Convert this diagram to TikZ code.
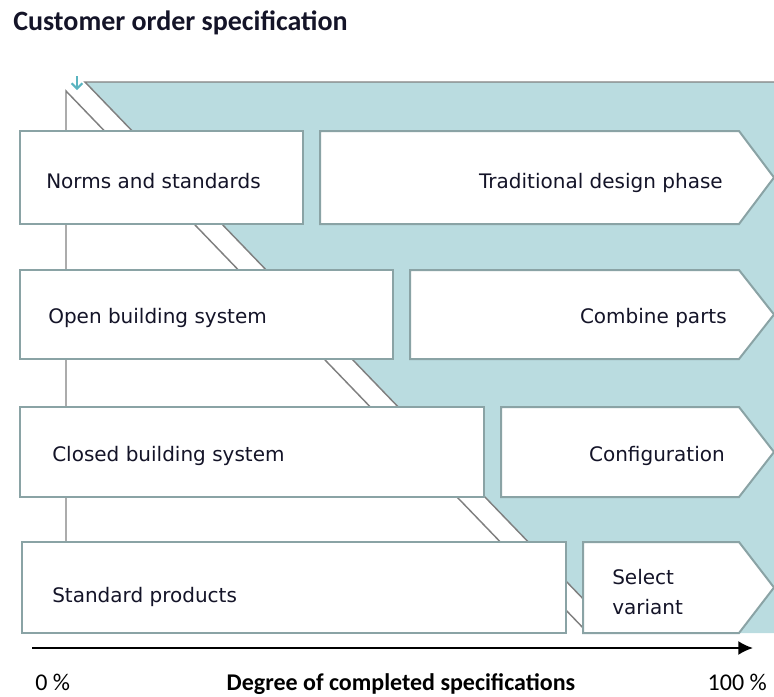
\documentclass[tikz,border=0pt]{standalone}
\usepackage{fontspec}
\setmainfont{Carlito}
\newfontfamily\boxfont{DejaVu Sans}
\usetikzlibrary{arrows.meta}
\definecolor{tealbg}{RGB}{186,220,224}
\definecolor{tealline}{RGB}{138,163,165}
\definecolor{tealarrow}{RGB}{90,180,192}
\definecolor{textdark}{RGB}{20,20,40}
\tikzset{
  box/.style={draw=tealline, line width=1.5pt, fill=white, line join=miter},
  boxtext/.style={font=\boxfont\fontsize{15}{22.5}\selectfont, inner sep=0pt, text=textdark},
  axistext/.style={font=\fontsize{18}{22}\selectfont, inner sep=0pt, text=black},
  guide/.style={draw=gray, line width=1.1pt}
}

\begin{document}
\begin{tikzpicture}[x=0.75pt,y=-0.75pt]
    \useasboundingbox (0,0) rectangle (774,696);
    \coordinate (T1) at (85,82);  \coordinate (T2) at (774,82);
    \coordinate (T3) at (774,633); \coordinate (T4) at (616,633);
    \coordinate (V1) at (66,91);  \coordinate (V2) at (66,633); \coordinate (V3) at (588,633);
    \coordinate (A1) at (77,76);  \coordinate (A2) at (77,90);
    \fill[tealbg] (T1) -- (T2) -- (T3) -- (T4) -- cycle;
    \draw[guide] (T4) -- (T1) -- (T2);
    \draw[guide] (V2) -- (V1) -- (V3);
    \draw[tealarrow, line width=1.5pt, -{Straight Barb[length=4pt,width=8pt]}] (A1) -- (A2);

    \foreach \xl/\xr/\yt/\yb in {20/303/131/224, 20/393/270/359, 20/484/407/497, 22/566/542/633}{
      \draw[box] (\xl,\yt) rectangle (\xr,\yb);
      \draw[box] (\xr+17,\yt) -- (739,\yt) -- (774,{(\yt+\yb)/2}) -- (739,\yb) -- (\xr+17,\yb) -- cycle;
    }

    \node[boxtext, anchor=base west] (norms)    at (46,188)  {Norms and standards};
    \node[boxtext, anchor=base east] (trad)     at (723,188) {Traditional design phase};
    \node[boxtext, anchor=base west] (open)     at (48,323)  {Open building system};
    \node[boxtext, anchor=base east] (combine)  at (727,323) {Combine parts};
    \node[boxtext, anchor=base west] (closed)   at (52,461)  {Closed building system};
    \node[boxtext, anchor=base east] (config)   at (725,461) {Configuration};
    \node[boxtext, anchor=base west] (standard) at (52,602)  {Standard products};
    \node[boxtext, anchor=north west, align=left] (select) at (612,569) {Select\\variant};

    \coordinate (axisL) at (32,648); \coordinate (axisR) at (753,648);
    \draw[line width=1.5pt, -{Latex[length=11pt,width=10.5pt]}] (axisL) -- (axisR);

    \node[anchor=base west, inner sep=0pt, font=\bfseries\fontsize{21}{25}\selectfont, text=textdark] (title) at (13,30) {Customer order specification};
    \node[axistext, anchor=base west] (zero)    at (35,690)  {0 \%};
    \node[axistext, anchor=base, font=\bfseries\fontsize{18}{22}\selectfont] (degree) at (401,690) {Degree of completed specifications};
    \node[axistext, anchor=base east] (hundred) at (767,690) {100 \%};
\end{tikzpicture}
\end{document}
